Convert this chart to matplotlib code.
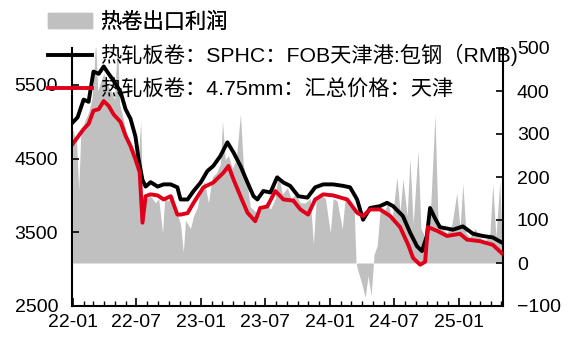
import matplotlib
matplotlib.use('Agg')
import matplotlib.pyplot as plt
import matplotlib.dates as mdates
from matplotlib.patches import Patch
from matplotlib.lines import Line2D
import pandas as pd

# 热轧板卷 SPHC FOB 天津港 包钢 (元/吨)
sphc_dates = ['2022-01-01', '2022-01-15', '2022-02-01', '2022-02-15', '2022-03-01', '2022-03-16',
              '2022-03-30', '2022-04-13', '2022-04-27', '2022-05-17', '2022-05-31', '2022-06-14',
              '2022-06-28', '2022-07-07', '2022-07-18', '2022-07-27', '2022-08-10', '2022-08-30',
              '2022-09-16', '2022-10-06', '2022-10-25', '2022-11-03', '2022-11-23', '2022-12-10',
              '2022-12-30', '2023-01-18', '2023-02-04', '2023-02-24', '2023-03-16', '2023-04-02',
              '2023-04-22', '2023-05-12', '2023-05-29', '2023-06-09', '2023-06-26', '2023-07-16',
              '2023-08-04', '2023-08-22', '2023-09-10', '2023-10-03', '2023-10-29', '2023-11-20',
              '2023-12-13', '2024-01-10', '2024-02-07', '2024-02-27', '2024-03-18', '2024-04-04',
              '2024-04-24', '2024-05-22', '2024-06-11', '2024-06-28', '2024-07-26', '2024-08-15',
              '2024-09-04', '2024-09-18', '2024-10-02', '2024-10-11', '2024-10-25', '2024-11-08',
              '2024-12-15', '2025-01-12', '2025-02-10', '2025-03-10', '2025-04-07', '2025-05-03']
sphc = [4990, 5060, 5300, 5270, 5680, 5650, 5750, 5650, 5560, 5400, 5170, 5040,
        4800, 4490, 4210, 4120, 4180, 4120, 4150, 4150, 4110, 3945, 3945, 4060,
        4175, 4330, 4400, 4535, 4720, 4585, 4400, 4175, 3990, 3945, 4060, 4040,
        4245, 4175, 4130, 3990, 3970, 4110, 4150, 4150, 4130, 4110, 3945, 3670,
        3830, 3855, 3900, 3855, 3720, 3500, 3310, 3245, 3450, 3830, 3690, 3570,
        3535, 3580, 3480, 3450, 3430, 3360]

# 热轧板卷 4.75mm 汇总价格 天津
hrc_dates = ['2022-01-01', '2022-01-15', '2022-02-01', '2022-02-15', '2022-03-01', '2022-03-16',
             '2022-03-30', '2022-04-13', '2022-04-27', '2022-05-17', '2022-05-31', '2022-06-14',
             '2022-06-28', '2022-07-10', '2022-07-18', '2022-07-27', '2022-08-10', '2022-08-30',
             '2022-09-16', '2022-10-06', '2022-10-25', '2022-11-03', '2022-11-23', '2022-12-10',
             '2023-01-07', '2023-02-04', '2023-03-05', '2023-03-19', '2023-04-02', '2023-04-22',
             '2023-05-12', '2023-06-03', '2023-06-17', '2023-07-07', '2023-07-30', '2023-08-22',
             '2023-09-19', '2023-10-09', '2023-10-31', '2023-11-20', '2023-12-13', '2024-01-10',
             '2024-02-19', '2024-03-18', '2024-04-04', '2024-04-24', '2024-05-22', '2024-06-20',
             '2024-07-18', '2024-08-10', '2024-08-24', '2024-09-13', '2024-09-27', '2024-10-05',
             '2024-10-31', '2024-11-28', '2025-01-04', '2025-01-24', '2025-03-01', '2025-04-07',
             '2025-05-03']
hrc = [4700, 4790, 4900, 4970, 5150, 5170, 5280, 5215, 5100, 4995, 4810, 4670,
       4490, 4315, 3630, 3990, 4015, 4000, 3945, 3990, 3740, 3740, 3760, 3900,
       4110, 4175, 4310, 4400, 4220, 3990, 3765, 3650, 3830, 3850, 4060, 3945,
       3930, 3810, 3740, 3945, 4015, 4000, 3945, 3765, 3720, 3810, 3810, 3720,
       3570, 3330, 3150, 3060, 3100, 3570, 3520, 3450, 3480, 3400, 3380, 3330,
       3215]

# 热卷出口利润 (右轴)
profit_dates = ['2022-01-01', '2022-01-12', '2022-01-18', '2022-01-24', '2022-02-04', '2022-02-15',
                '2022-02-24', '2022-03-01', '2022-03-07', '2022-03-13', '2022-03-21', '2022-03-30',
                '2022-04-07', '2022-04-19', '2022-04-30', '2022-05-08', '2022-05-14', '2022-05-23',
                '2022-06-03', '2022-06-14', '2022-06-26', '2022-07-04', '2022-07-13', '2022-07-18',
                '2022-07-27', '2022-08-10', '2022-08-24', '2022-09-02', '2022-09-13', '2022-09-19',
                '2022-09-30', '2022-10-11', '2022-10-23', '2022-11-03', '2022-11-11', '2022-11-17',
                '2022-12-01', '2022-12-10', '2022-12-21', '2022-12-30', '2023-01-10', '2023-01-21',
                '2023-02-01', '2023-02-13', '2023-02-24', '2023-03-02', '2023-03-10', '2023-03-19',
                '2023-03-30', '2023-04-10', '2023-04-22', '2023-04-30', '2023-05-12', '2023-05-20',
                '2023-06-03', '2023-06-12', '2023-06-23', '2023-07-04', '2023-07-16', '2023-07-30',
                '2023-08-07', '2023-08-19', '2023-09-02', '2023-09-13', '2023-09-25', '2023-10-09',
                '2023-10-23', '2023-11-06', '2023-11-15', '2023-11-23', '2023-12-04', '2023-12-19',
                '2024-01-02', '2024-01-10', '2024-01-21', '2024-02-05', '2024-02-13', '2024-02-27',
                '2024-03-10', '2024-03-15', '2024-03-21', '2024-04-01', '2024-04-10', '2024-04-18',
                '2024-04-27', '2024-05-05', '2024-05-14', '2024-05-22', '2024-06-03', '2024-06-14',
                '2024-06-25', '2024-07-09', '2024-07-18', '2024-07-26', '2024-08-07', '2024-08-15',
                '2024-08-24', '2024-09-07', '2024-09-15', '2024-09-27', '2024-10-11', '2024-10-25',
                '2024-11-03', '2024-11-14', '2024-11-28', '2024-12-12', '2024-12-26', '2025-01-04',
                '2025-01-12', '2025-01-21', '2025-02-01', '2025-02-15', '2025-03-01', '2025-03-16',
                '2025-03-30', '2025-04-07', '2025-04-16', '2025-04-27', '2025-05-03']
profit = [310, 280, 170, 300, 330, 350, 380, 420, 520, 400, 420, 440,
          420, 400, 380, 520, 370, 340, 300, 280, 260, 220, 330, 160,
          150, 155, 140, 150, 70, 150, 145, 160, 120, 90, 25, 100,
          80, 110, 130, 170, 190, 140, 200, 210, 230, 330, 240, 250,
          220, 240, 346, 230, 180, 130, 120, 110, 130, 140, 125, 150,
          210, 160, 175, 150, 160, 140, 140, 150, 44, 150, 160, 150,
          70, 150, 145, 80, 150, 140, 120, 0, -20, -50, -80, -30,
          -75, 20, 40, 120, 120, 140, 100, 200, 120, 195, 110, 244,
          90, 262, 80, 60, 100, 345, 90, 80, 70, 90, 163, 80,
          184, 70, 60, 80, 60, 50, 70, 184, 60, 190, 50]

legend_labels = ['热卷出口利润', '热轧板卷：SPHC：FOB天津港:包钢（RMB)', '热轧板卷：4.75mm：汇总价格：天津']

plt.rcParams['font.family'] = ['Liberation Sans', 'Noto Sans CJK SC']

fig = plt.figure(figsize=(5.74, 3.56), dpi=100)
ax = fig.add_axes([72/574, 1-306/356, 431/574, 258/356])
ax2 = ax.twinx()

ax2.fill_between(pd.to_datetime(profit_dates), profit, 0, color='#c0c0c0', linewidth=0)
ax.plot(pd.to_datetime(sphc_dates), sphc, color='black', lw=2.8)
ax.plot(pd.to_datetime(hrc_dates), hrc, color='#e0001a', lw=2.8)

ax.set_zorder(ax2.get_zorder() + 1)
ax.patch.set_visible(False)

ax.set_ylim(2500, 6000)
ax.set_yticks([2500, 3500, 4500, 5500])
ax2.set_ylim(-100, 500)
ax2.set_yticks([-100, 0, 100, 200, 300, 400, 500])
ax.set_xlim(pd.Timestamp('2021-12-30'), pd.Timestamp('2025-05-06'))

ax.xaxis.set_major_locator(mdates.MonthLocator(bymonth=[1, 7]))
ax.xaxis.set_minor_locator(mdates.MonthLocator())
ax.xaxis.set_major_formatter(mdates.DateFormatter('%y-%m'))

for a in (ax, ax2):
    a.spines['top'].set_visible(False)
    for s in ('left', 'right', 'bottom'):
        a.spines[s].set_linewidth(1.5)
ax.spines['right'].set_visible(False)
ax2.spines['left'].set_visible(False)
ax2.spines['bottom'].set_visible(False)

ax.tick_params(axis='y', direction='in', length=5, width=1.2, labelsize=14, pad=10)
ax.tick_params(axis='x', which='major', direction='in', length=6, width=1.2, labelsize=14, pad=6)
ax.tick_params(axis='x', which='minor', direction='in', length=3.5, width=1)
ax2.tick_params(axis='y', direction='in', length=5, width=1.2, labelsize=14, pad=10)

prop = {'family': ['Liberation Sans', 'Noto Sans CJK SC'], 'size': 15.3}
leg1 = fig.legend([Patch(color='#c0c0c0')], legend_labels[:1], loc='center left',
                  bbox_to_anchor=(48/574, 1-22/356), frameon=False, prop=prop,
                  handlelength=2.05, handletextpad=0.38, borderpad=0, borderaxespad=0)
leg2 = fig.legend([Line2D([], [], color='black', lw=2.8), Line2D([], [], color='#e0001a', lw=2.8)],
                  legend_labels[1:], loc='upper left', bbox_to_anchor=(48/574, 1-44/356),
                  frameon=False, prop=prop, handlelength=2.05, handletextpad=0.38,
                  labelspacing=0.64, borderpad=0, borderaxespad=0)
fig.add_artist(leg1)

fig.savefig('out.png', dpi=100)
